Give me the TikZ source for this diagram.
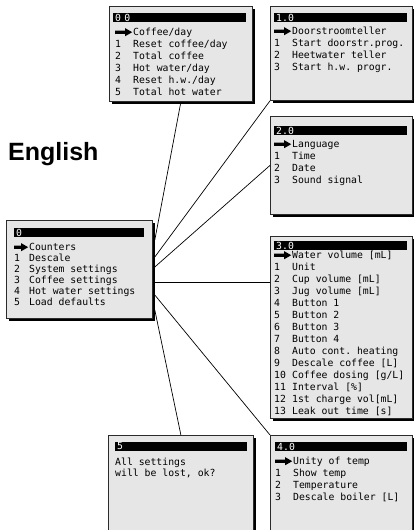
\documentclass[tikz,border=0pt]{standalone}
\usepackage{fontspec}
\setmonofont{DejaVu Sans Mono}
\newfontfamily\labelfont{Liberation Sans}
\usetikzlibrary{shadows}
\definecolor{lcdgray}{HTML}{E6E6E6}
\definecolor{lcdedge}{HTML}{2B2B2B}
\newlength\numcol
\setlength\numcol{18pt}
\newcommand\lcdfont{\ttfamily\fontsize{9.8pt}{12pt}\selectfont}
\newcommand\lcdptr{\tikz[baseline=-3pt]\fill (0pt,-1.7pt) -- ({\numcol-8pt},-1.7pt) -- ({\numcol-8pt},-4pt) -- ({\numcol-1pt},0pt) -- ({\numcol-8pt},4pt) -- ({\numcol-8pt},1.7pt) -- (0pt,1.7pt) -- cycle;}
\newcommand\lcdrow[2]{\makebox[\numcol][l]{#1}#2}

\begin{document}
\begin{tikzpicture}[x=1pt, y=-1pt,
    screen/.style={draw=lcdedge, line width=0.8pt, fill=lcdgray, anchor=north west, inner sep=0pt,
      drop shadow={shadow xshift=2.5pt, shadow yshift=-2.5pt, fill=black, opacity=1}},
    titlebar/.style={fill=black, text=white, font=\lcdfont, anchor=north west, inner xsep=2pt, inner ysep=0pt, minimum height=8.5pt, align=left},
    lcdtext/.style={anchor=north west, inner sep=0pt, align=left, font=\lcdfont},
    link/.style={line width=0.7pt}]
  \useasboundingbox (0,0) rectangle (414,530);

  \node[anchor=base west, inner sep=0pt, font=\labelfont\bfseries\fontsize{25pt}{30pt}\selectfont] (title) at (8,160) {English};

  % screens
  \node[screen, minimum width=146pt, minimum height=98pt] (mainmenu) at (6,220) {};
  \node[screen, minimum width=143pt, minimum height=95pt] (counters) at (109,6) {};
  \node[screen, minimum width=142pt, minimum height=94pt] (descale) at (270,6) {};
  \node[screen, minimum width=142pt, minimum height=98pt] (system) at (270,116) {};
  \node[screen, minimum width=142pt, minimum height=182pt] (coffee) at (270,236) {};
  \node[screen, minimum width=145pt, minimum height=110pt] (defaults) at (108,435) {};
  \node[screen, minimum width=142pt, minimum height=110pt] (hotwater) at (270,435) {};

  % title bars
  \node[titlebar, text width=126pt] (mainmenu-bar) at (14,228) {0};
  \node[titlebar, text width=129pt] (counters-bar) at (113,13) {0 0};
  \node[titlebar, text width=129pt] (descale-bar) at (274,13) {1.0};
  \node[titlebar, text width=129pt] (system-bar) at (274,126) {2.0};
  \node[titlebar, text width=129pt] (coffee-bar) at (274,241) {3.0};
  \node[titlebar, text width=128pt] (defaults-bar) at (115,442) {5};
  \node[titlebar, text width=128pt] (hotwater-bar) at (275,442) {4.0};

  % menu lines
  \node[lcdtext, font={\ttfamily\fontsize{9.8pt}{11.1pt}\selectfont\setlength\numcol{15pt}}] (mainmenu-txt) at (14,242) {%
    \rule{0pt}{8pt}\lcdrow{\lcdptr}{Counters}\\
    \lcdrow{1}{Descale}\\
    \lcdrow{2}{System settings}\\
    \lcdrow{3}{Coffee settings}\\
    \lcdrow{4}{Hot water settings}\\
    \lcdrow{5}{Load defaults}};
  \node[lcdtext] (counters-txt) at (115,27) {%
    \rule{0pt}{8pt}\lcdrow{\lcdptr}{Coffee/day}\\
    \lcdrow{1}{Reset coffee/day}\\
    \lcdrow{2}{Total coffee}\\
    \lcdrow{3}{Hot water/day}\\
    \lcdrow{4}{Reset h.w./day}\\
    \lcdrow{5}{Total hot water}};
  \node[lcdtext] (descale-txt) at (274,26) {%
    \rule{0pt}{8pt}\lcdrow{\lcdptr}{Doorstroomteller}\\
    \lcdrow{1}{Start doorstr.prog.}\\
    \lcdrow{2}{Heetwater teller}\\
    \lcdrow{3}{Start h.w. progr.}};
  \node[lcdtext] (system-txt) at (274,139) {%
    \rule{0pt}{8pt}\lcdrow{\lcdptr}{Language}\\
    \lcdrow{1}{Time}\\
    \lcdrow{2}{Date}\\
    \lcdrow{3}{Sound signal}};
  \node[lcdtext] (coffee-txt) at (274,250) {%
    \rule{0pt}{8pt}\lcdrow{\lcdptr}{Water volume [mL]}\\
    \lcdrow{1}{Unit}\\
    \lcdrow{2}{Cup volume [mL]}\\
    \lcdrow{3}{Jug volume [mL]}\\
    \lcdrow{4}{Button 1}\\
    \lcdrow{5}{Button 2}\\
    \lcdrow{6}{Button 3}\\
    \lcdrow{7}{Button 4}\\
    \lcdrow{8}{Auto cont. heating}\\
    \lcdrow{9}{Descale coffee [L]}\\
    \lcdrow{10}{Coffee dosing [g/L]}\\
    \lcdrow{11}{Interval [\%]}\\
    \lcdrow{12}{1st charge vol[mL]}\\
    \lcdrow{13}{Leak out time [s]}};
  \node[lcdtext, font={\ttfamily\fontsize{9.8pt}{11pt}\selectfont}] (defaults-txt) at (115,457) {%
    \rule{0pt}{8pt}All settings\\
    will be lost, ok?};
  \node[lcdtext] (hotwater-txt) at (275,456) {%
    \rule{0pt}{8pt}\lcdrow{\lcdptr}{Unity of temp}\\
    \lcdrow{1}{Show temp}\\
    \lcdrow{2}{Temperature}\\
    \lcdrow{3}{Descale boiler [L]}};

  % connectors
  \coordinate (m1) at ([shift={(2,20)}]mainmenu.north east);
  \coordinate (m2) at ([shift={(2,37)}]mainmenu.north east);
  \coordinate (m3) at ([shift={(2,47)}]mainmenu.north east);
  \coordinate (m4) at ([shift={(2,62)}]mainmenu.north east);
  \coordinate (m5) at ([shift={(2,75)}]mainmenu.north east);
  \coordinate (m6) at ([shift={(2,90)}]mainmenu.north east);
  \draw[link] (m1) -- (counters.south);
  \draw[link] (m2) -- (descale.south west);
  \draw[link] (m3) -- (system.west);
  \draw[link] (m4) -- (m4 -| coffee.west);
  \draw[link] (m5) -- (hotwater.north west);
  \draw[link] (m6) -- (defaults.north);
\end{tikzpicture}
\end{document}
